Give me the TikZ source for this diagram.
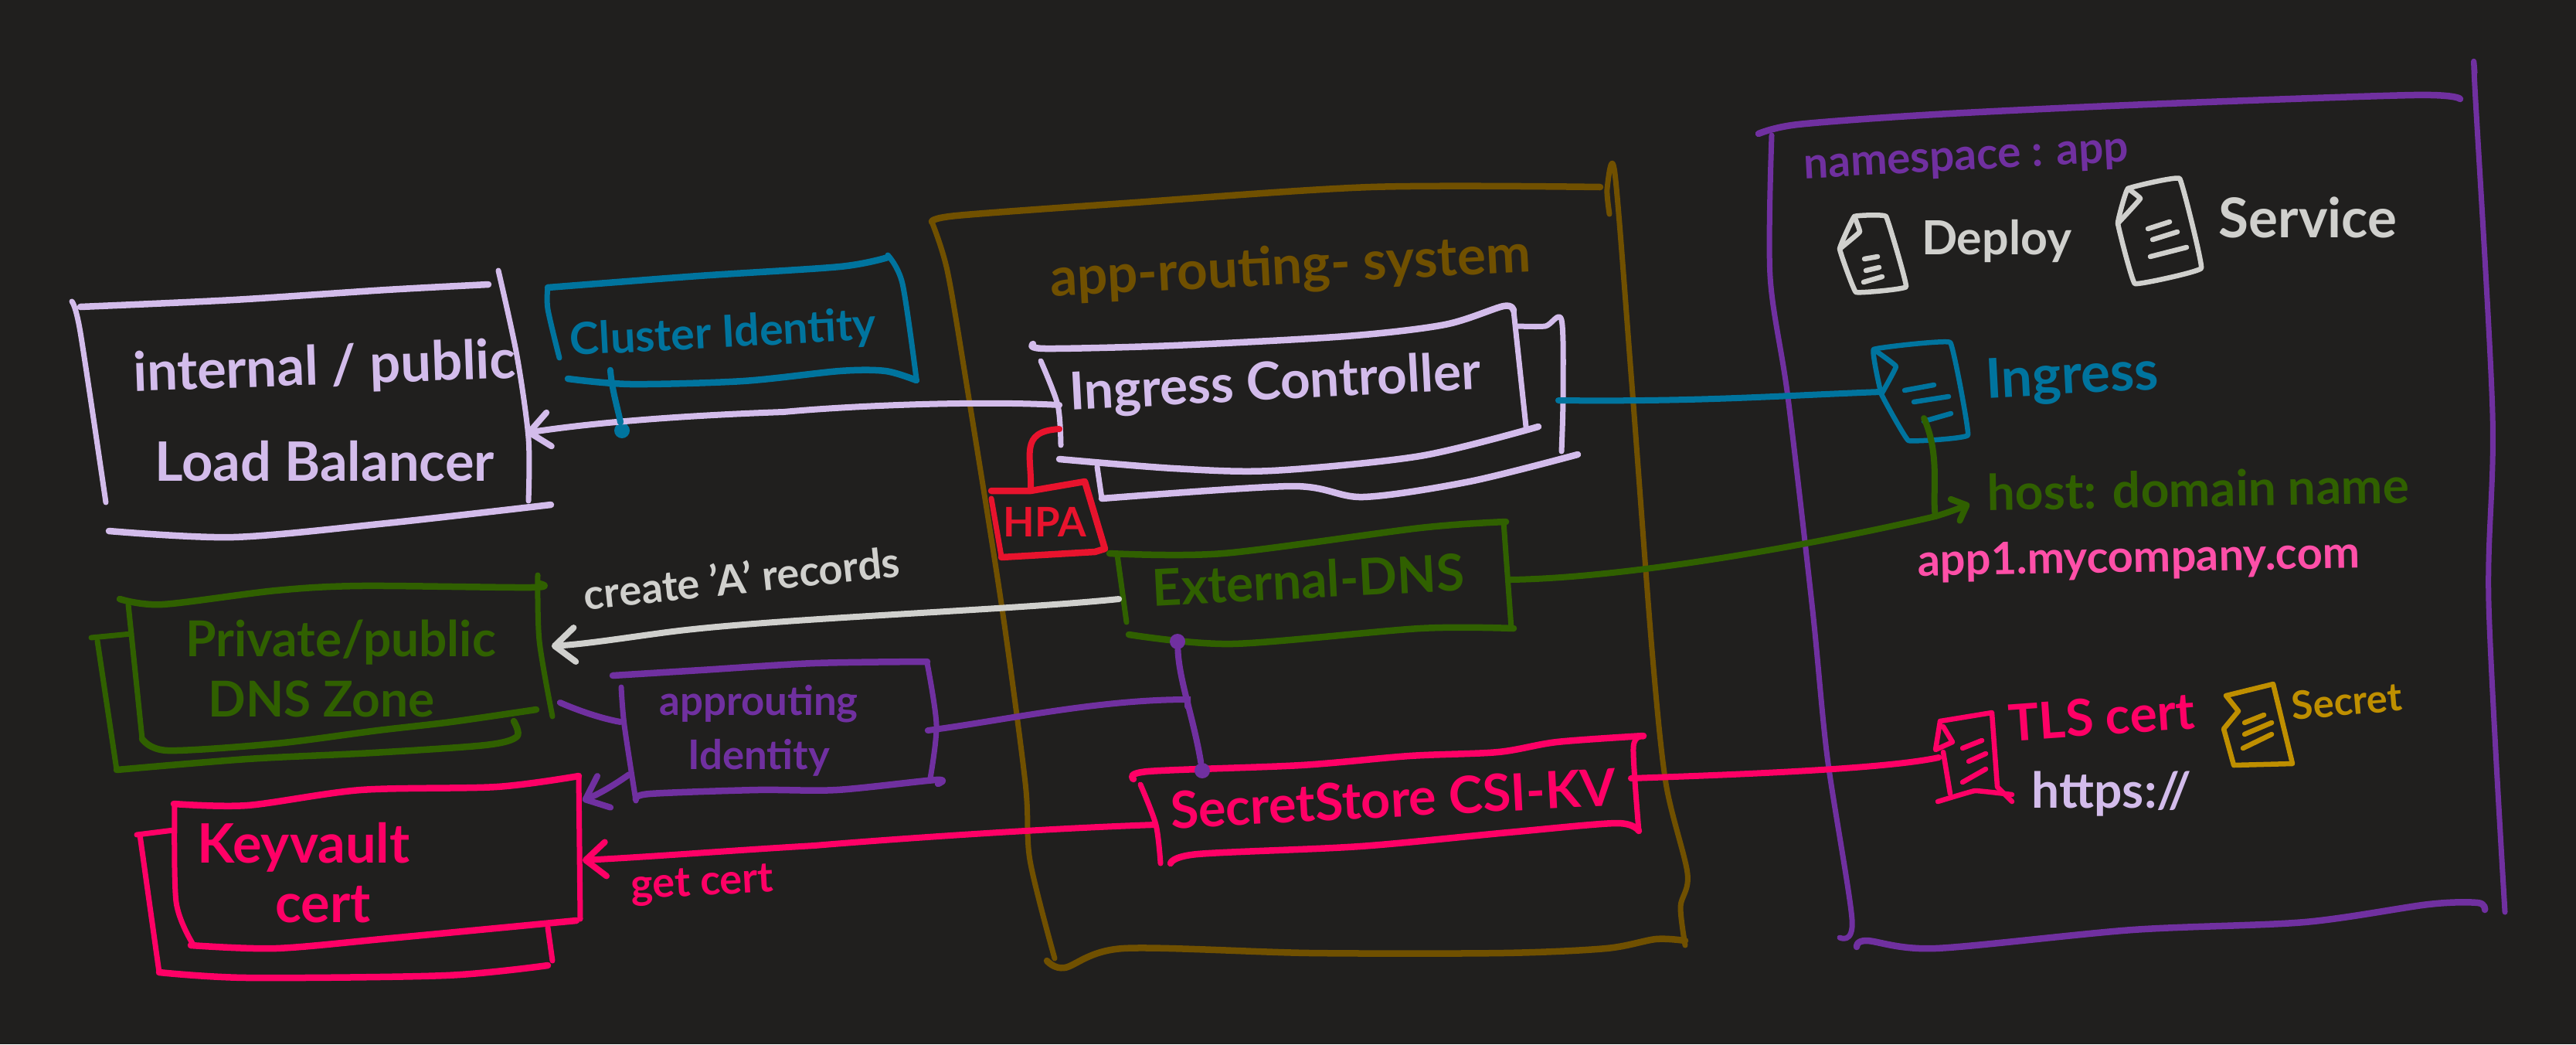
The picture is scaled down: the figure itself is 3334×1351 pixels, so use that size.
\documentclass[tikz,border=0pt]{standalone}
\usepackage{fontspec}
\setmainfont{Lato}
\usepackage{tikz}
\usetikzlibrary{arrows.meta}
\definecolor{canvas}{RGB}{32,31,30}
\definecolor{inklilac}{RGB}{211,188,235}
\definecolor{inkteal}{RGB}{0,116,158}
\definecolor{inkgreen}{RGB}{48,96,0}
\definecolor{inkgrey}{RGB}{208,208,205}
\definecolor{inkviolet}{RGB}{112,48,160}
\definecolor{inkpink}{RGB}{255,0,102}
\definecolor{inkbrown}{RGB}{112,80,0}
\definecolor{inkred}{RGB}{232,19,45}
\definecolor{inkrose}{RGB}{255,79,168}
\definecolor{inkgold}{RGB}{191,143,0}

\begin{document}
\begin{tikzpicture}[
    x=0.01cm, y=-0.01cm,
    ink/.style={draw=#1, line width=.085cm, line cap=round, line join=round, smooth, tension=.5},
    side/.style={ink=#1, line width=.07cm},
    doc/.style={ink=#1, line width=.065cm, tension=.12},
    wire/.style={draw=#1, line width=.08cm, line cap=round},
    arr/.style={wire=#1, -{Straight Barb[length=.26cm, width=.44cm, round]}},
    hand/.style 2 args={font=\fontsize{#1}{#2}\selectfont\bfseries, align=center, inner sep=0pt},
    box/.style 2 args={minimum width=#1, minimum height=#2},
    dot/.style={circle, fill=#1, inner sep=0pt, minimum width=.2cm, minimum height=.2cm},
]
\fill[canvas] (0,0) rectangle (3334,1351);

% ---- app-routing-system frame ----
\draw[ink=inkbrown] plot coordinates {(1206,287) (1238,279) (1455,263) (1774,242) (2071,242)};
\draw[side=inkbrown] plot coordinates {(1206,287) (1226,350) (1251,497) (1296,781) (1327,1013) (1333,1113) (1365,1240)};
\draw[side=inkbrown] plot coordinates {(2083,277) (2080,244) (2090,224) (2112,497) (2138,840) (2156,1013) (2184,1130) (2175,1173) (2181,1223)};
\draw[ink=inkbrown] plot coordinates {(1355,1243) (1378,1252) (1454,1227) (1696,1233) (1945,1233) (2079,1227) (2143,1215) (2181,1217)};
\node[hand={19.7}{19.7}, text=inkbrown] (appsys) at (1670,348) {\rotatebox{3}{app-routing- system}};

% ---- namespace frame ----
\draw[ink=inkviolet] plot coordinates {(2276,173) (2327,161) (2505,148) (2779,135) (3124,123) (3184,128)};
\draw[side=inkviolet] plot coordinates {(2293,175) (2291,358) (2314,514) (2346,790) (2365,980) (2397,1190) (2381,1213)};
\draw[side=inkviolet] plot coordinates {(3203,94) (3203,112) (3226,536) (3221,780) (3242,1180)};
\draw[ink=inkviolet] plot coordinates {(2403,1225) (2416,1217) (2505,1227) (2760,1203) (2983,1193) (3143,1170) (3207,1168) (3216,1177)};
\node[hand={16.1}{16.1}, text=inkviolet] (nsapp) at (2545,210) {\rotatebox{3}{namespace : app}};

% ---- load balancer ----
\node[hand={20}{33}, text=inklilac, box={5.2cm}{3cm}] (lb) at (420,530) {\rotatebox{2}{internal / public}\\Load Balancer};
\draw[ink=inklilac] plot coordinates {(104,397) (302,388) (500,375) (632,368)};
\draw[side=inklilac] plot coordinates {(93,390) (104,430) (137,650)};
\draw[side=inklilac] plot coordinates {(645,350) (669,460) (684,567) (684,648)};
\draw[ink=inklilac] plot coordinates {(141,687) (302,695) (500,677) (713,653)};

% ---- cluster identity ----
\node[hand={16.3}{16.3}, text=inkteal, box={4.4cm}{1.2cm}] (cluster) at (936,433) {\rotatebox{3}{Cluster Identity}};
\draw[ink=inkteal] plot coordinates {(709,372) (904,357) (1087,345) (1149,333)};
\draw[side=inkteal] plot coordinates {(709,372) (709,400) (724,463)};
\draw[side=inkteal] plot coordinates {(1149,330) (1168,367) (1186,490)};
\draw[ink=inkteal] plot coordinates {(735,490) (816,497) (962,493) (1087,480) (1146,480) (1186,492)};

% ---- dns zone ----
\node[hand={18.2}{22}, text=inkgreen, box={5.44cm}{1.9cm}] (dnszone) at (441,865) {Private/public\\\hspace*{-.5cm}DNS Zone};
\draw[ink=inkgreen] plot coordinates {(155,775) (210,782) (357,764) (467,758) (687,760) (698,755)};
\draw[side=inkgreen] plot coordinates {(166,782) (184,956)};
\draw[ink=inkgreen] plot coordinates {(184,956) (217,971) (357,962) (489,945) (584,934) (694,918)};
\draw[side=inkgreen] plot coordinates {(696,744) (698,829) (715,927)};
\draw[side=inkgreen] plot coordinates {(118,825) (170,820)};
\draw[side=inkgreen] plot coordinates {(126,829) (151,996)};
\draw[ink=inkgreen] plot coordinates {(151,996) (320,982) (482,974) (628,964) (669,953) (665,933)};

% ---- approuting identity ----
\node[hand={15}{20}, text=inkviolet, box={4.36cm}{1.6cm}] (approute) at (982,945) {approuting\\Identity};
\draw[ink=inkviolet] plot coordinates {(793,874) (907,867) (1054,858) (1200,856)};
\draw[side=inkviolet] plot coordinates {(804,889) (808,938) (823,1036)};
\draw[side=inkviolet] plot coordinates {(1200,858) (1212,938) (1204,1007)};
\draw[ink=inkviolet] plot coordinates {(823,1034) (841,1027) (980,1022) (1083,1022) (1211,1009) (1214,1014)};

% ---- key vault ----
\node[hand={20}{22}, text=inkpink, box={7.2cm}{2cm}] (vault) at (393,1129) {Keyvault\\\hspace*{.5cm}cert};
\draw[ink=inkpink] plot coordinates {(225,1040) (320,1042) (467,1022) (643,1018) (749,1004)};
\draw[side=inkpink] plot coordinates {(226,1040) (228,1167) (250,1222)};
\draw[side=inkpink] plot coordinates {(749,1004) (751,1189)};
\draw[ink=inkpink] plot coordinates {(247,1223) (357,1227) (504,1214) (746,1191)};
\draw[side=inkpink] plot coordinates {(177,1080) (225,1074)};
\draw[side=inkpink] plot coordinates {(181,1080) (206,1258)};
\draw[ink=inkpink] plot coordinates {(206,1258) (320,1265) (577,1262) (709,1249)};
\draw[side=inkpink] plot coordinates {(709,1200) (715,1243)};

% ---- ingress controller ----
\node[hand={19.2}{19.2}, text=inklilac, box={5.56cm}{1.4cm}] (ingctl) at (1650,498) {\rotatebox{3}{Ingress Controller}};
\draw[ink=inklilac] plot coordinates {(1337,445) (1353,451) (1519,447) (1742,435) (1870,420) (1946,396) (1959,402)};
\draw[side=inklilac] plot coordinates {(1347,467) (1369,524) (1373,576)};
\draw[side=inklilac] plot coordinates {(1959,402) (1975,552)};
\draw[ink=inklilac] plot coordinates {(1371,594) (1519,606) (1646,609) (1838,590) (1991,552)};
\draw[side=inklilac] plot coordinates {(1965,422) (2000,422) (2021,414) (2023,513) (2021,584)};
\draw[side=inklilac] plot coordinates {(1420,604) (1426,645)};
\draw[ink=inklilac] plot coordinates {(1426,645) (1672,629) (1764,643) (1902,623) (2042,588)};

% ---- hpa ----
\node[hand={15}{15}, text=inkred, box={1.1cm}{.8cm}] (hpa) at (1352,675) {HPA};
\draw[ink=inkred, sharp plot] plot coordinates {(1283,635) (1334,635) (1404,623) (1430,710) (1417,714) (1296,721)};
\draw[side=inkred] plot coordinates {(1283,645) (1296,720)};

% ---- external dns ----
\node[hand={18.7}{18.7}, text=inkgreen, box={4.9cm}{1.4cm}] (extdns) at (1693,750) {\rotatebox{3}{External-DNS}};
\draw[ink=inkgreen] plot coordinates {(1436,716) (1583,716) (1838,683) (1949,675)};
\draw[side=inkgreen] plot coordinates {(1446,718) (1458,805)};
\draw[side=inkgreen] plot coordinates {(1946,675) (1956,813)};
\draw[ink=inkgreen] plot coordinates {(1461,821) (1595,833) (1838,813) (1959,813)};

% ---- secret store ----
\node[hand={18.9}{18.9}, text=inkpink, box={6.14cm}{1.4cm}] (secstore) at (1803,1033) {\rotatebox{3}{SecretStore CSI-KV}};
\draw[ink=inkpink] plot coordinates {(1467,1008) (1486,998) (1684,990) (1824,978) (1939,973) (2015,960) (2127,952)};
\draw[side=inkpink] plot coordinates {(1476,1015) (1496,1067) (1502,1117)};
\draw[side=inkpink] plot coordinates {(2127,953) (2114,967) (2121,1075)};
\draw[ink=inkpink] plot coordinates {(1515,1117) (1550,1105) (1760,1095) (1952,1077) (2092,1065) (2121,1075)};

% ---- manifests ----
\node[box={.8cm}{1cm}] (deployic) at (2425,330) {};
\draw[doc=inkgrey, smooth cycle] plot coordinates {(2400,280) (2441,280) (2467,371) (2402,378) (2381,322)};
\draw[doc=inkgrey] plot coordinates {(2400,280) (2407,300) (2381,322)};
\draw[doc=inkgrey] (2413,335) -- (2430,332) (2415,350) -- (2432,346) (2412,365) -- (2436,358);
\node[hand={17.3}{17.3}, text=inkgrey] (deploy) at (2584,312) {Deploy};

\node[box={1cm}{1.3cm}] (serviceic) at (2795,300) {};
\draw[doc=inkgrey, smooth cycle] plot coordinates {(2754,244) (2821,231) (2849,347) (2763,367) (2741,289)};
\draw[doc=inkgrey] plot coordinates {(2754,244) (2770,257) (2741,289)};
\draw[doc=inkgrey] (2780,296) -- (2808,287) (2786,310) -- (2818,300) (2783,332) -- (2830,320);
\node[hand={20.2}{20.2}, text=inkgrey] (service) at (2987,281) {Service};

\node[box={1.1cm}{1.2cm}] (ingressic) at (2490,507) {};
\draw[doc=inkteal, smooth cycle] plot coordinates {(2425,452) (2524,443) (2547,563) (2470,570) (2435,510)};
\draw[doc=inkteal] plot coordinates {(2425,452) (2454,474) (2435,510)};
\draw[doc=inkteal] (2465,505) -- (2503,498) (2477,520) -- (2522,513) (2490,545) -- (2525,535);
\node[hand={20.2}{20.2}, text=inkteal] (ingress) at (2682,490) {\rotatebox{3}{Ingress}};
\node[hand={18.2}{18.2}, text=inkgreen, box={5.6cm}{.6cm}] (hostname) at (2845,632) {\rotatebox{1}{host: domain name}};
\node[hand={16.4}{16.4}, text=inkrose] (appurl) at (2768,724) {\rotatebox{1}{app1.mycompany.com}};

\node[box={.9cm}{1cm}] (tlsic) at (2555,980) {};
\draw[doc=inkpink, sharp plot] plot coordinates {(2511,933) (2578,922) (2585,1018) (2604,1037)};
\draw[doc=inkpink] plot coordinates {(2508,1037) (2556,1023) (2604,1028)};
\draw[doc=inkpink, sharp plot] plot coordinates {(2515,940) (2527,960) (2505,970) (2511,933)};
\draw[doc=inkpink] plot coordinates {(2515,973) (2524,1027)};
\draw[doc=inkpink] (2540,968) -- (2565,958) (2548,985) -- (2570,975) (2540,1012) -- (2570,995);
\node[hand={18.7}{18.7}, text=inkpink] (tlscert) at (2720,927) {\rotatebox{4}{TLS cert}};
\node[hand={18.2}{18.2}, text=inklilac] (https) at (2733,1027) {https://};

\node[box={.9cm}{1cm}] (secretic) at (2925,940) {};
\draw[doc=inkgold, sharp plot] plot coordinates {(2881,900) (2942,885) (2967,988) (2891,990) (2878,943) (2897,920) (2881,900)};
\draw[doc=inkgold] (2905,935) -- (2930,925) (2905,950) -- (2940,935) (2903,968) -- (2940,950);
\node[hand={14.4}{14.4}, text=inkgold] (secret) at (3037,907) {\rotatebox{5}{Secret}};

% ---- connector labels ----
\node[hand={15.4}{15.4}, text=inkgrey] (createa) at (960,747) {\rotatebox{6}{create 'A' records}};
\node[hand={15.4}{15.4}, text=inkpink] (getcert) at (909,1145) {\rotatebox{3}{get cert}};

% ---- connectors ----
\node[dot=inkteal] (lbdot) at (805,557) {};
\node[dot=inkviolet] (extdot) at (1524,830) {};
\node[dot=inkviolet] (secdot) at (1556,997) {};
\coordinate (idjoin) at (1537,905);
\coordinate (hostbend) at (2505,668);

\draw[arr=inklilac] ([yshift=-.26cm]ingctl.west) .. controls (1264,518) and (1100,525) .. (1014,533) .. controls (900,537) and (780,545) .. ([yshift=-.3cm]lb.east);
\draw[wire=inkteal] ([xshift=-1.46cm,yshift=.15cm]cluster.south) .. controls (792,505) and (800,530) .. (lbdot);
\draw[wire=inkred] ([xshift=-.18cm]hpa.north) .. controls (1336,590) and (1318,558) .. ([yshift=-.57cm]ingctl.west);
\draw[arr=inkgrey] ([xshift=.01cm,yshift=-.25cm]extdns.west) .. controls (1300,790) and (1000,800) .. (863,818) .. controls (810,825) and (760,833) .. ([yshift=.29cm]dnszone.east);
\draw[wire=inkviolet] ([xshift=.4cm,yshift=.11cm]approute.west) .. controls (780,930) and (750,920) .. ([xshift=.11cm,yshift=-.44cm]dnszone.east);
\draw[arr=inkviolet] ([xshift=.51cm,yshift=-.57cm]approute.west) .. controls (800,1012) and (780,1025) .. ([yshift=.93cm]vault.east);
\draw[wire=inkviolet] (extdot) .. controls (1526,880) and (1545,930) .. (secdot);
\draw[wire=inkviolet] (approute.east) .. controls (1300,932) and (1420,905) .. (idjoin) -- ++(0,9);
\draw[arr=inkpink] ([yshift=-.34cm]secstore.west) .. controls (1320,1073) and (1100,1090) .. (1054,1094) .. controls (950,1100) and (850,1108) .. ([yshift=.16cm]vault.east);
\draw[wire=inkteal] ([xshift=.88cm,yshift=-.2cm]ingctl.east) .. controls (2200,520) and (2300,512) .. (ingressic.west);
\draw[wire=inkgreen] ([xshift=.15cm]extdns.east) .. controls (2100,748) and (2333,708) .. (hostbend);
\draw[wire=inkgreen] (hostbend) .. controls (2500,640) and (2512,590) .. ([yshift=-.34cm]ingressic.center);
\draw[wire=inkgreen, -{Straight Barb[length=.16cm, width=.3cm, round]}] (hostbend) .. controls (2515,665) and (2530,660) .. ([xshift=-.15cm,yshift=-.2cm]hostname.west);
\draw[wire=inkpink] ([yshift=.26cm]secstore.east) .. controls (2250,1002) and (2440,995) .. (tlsic.west);
\end{tikzpicture}
\end{document}
